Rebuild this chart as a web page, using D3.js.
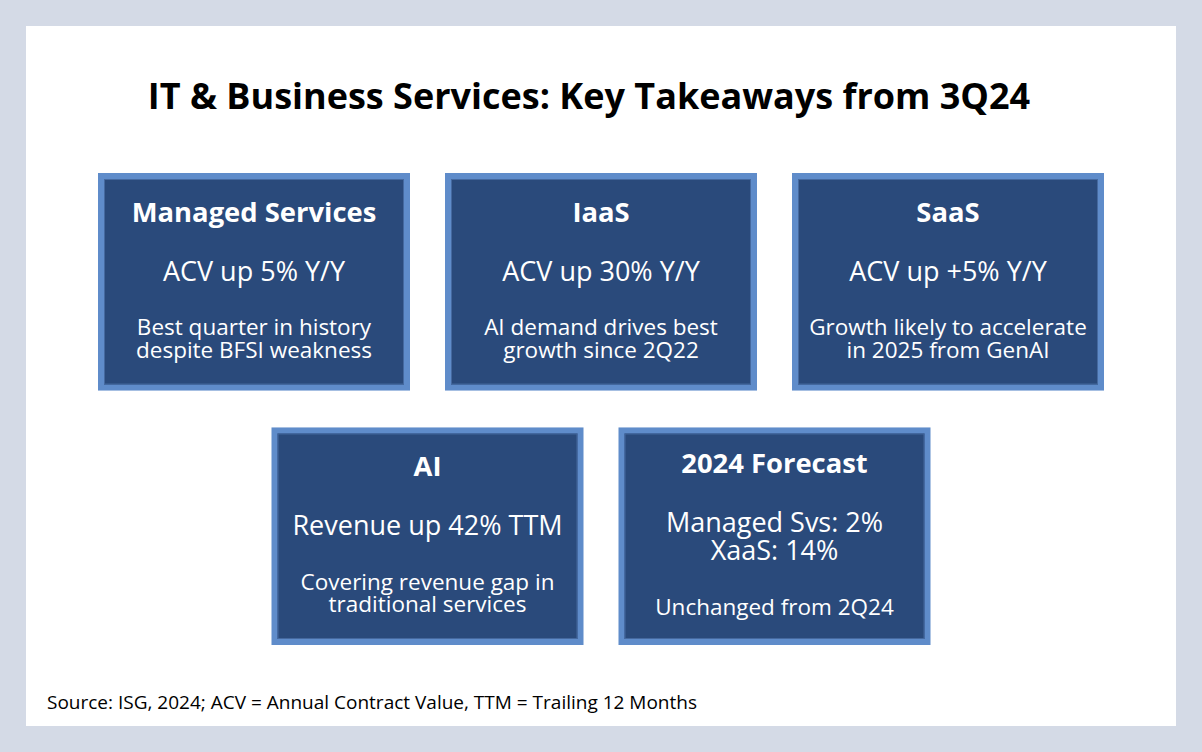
<!DOCTYPE html>
<html>
<head>
<meta charset="utf-8">
<script src="https://cdn.jsdelivr.net/npm/d3@7"></script>
<style>
  html, body { margin: 0; padding: 0; background: #d4dae6; }
  svg { display: block; font-family: "Open Sans", sans-serif; }
</style>
</head>
<body>
<div id="chart"></div>
<script>
// card contents
const cardTitles = ["Managed Services", "IaaS", "SaaS", "AI", "2024 Forecast"];
const cardHeadlines = [
    ["ACV up 5% Y/Y"],
    ["ACV up 30% Y/Y"],
    ["ACV up +5% Y/Y"],
    ["Revenue up 42% TTM"],
    ["Managed Svs: 2%", "XaaS: 14%"]
];
const cardNotes = [
    ["Best quarter in history", "despite BFSI weakness"],
    ["AI demand drives best", "growth since 2Q22"],
    ["Growth likely to accelerate", "in 2025 from GenAI"],
    ["Covering revenue gap in", "traditional services"],
    ["Unchanged from 2Q24"]
];
const cardRows = [0, 0, 0, 1, 1];
const chartTitle = "IT & Business Services: Key Takeaways from 3Q24";
const sourceNote = "Source: ISG, 2024; ACV = Annual Contract Value, TTM = Trailing 12 Months";

const width = 1202, height = 752;
const panel = {x: 26, y: 26, w: 1150, h: 700};
const centerX = 601;
const boxW = 312, gapX = 35;
const border = 6;

const COLORS = {
    fill: "#2a4a7b",
    border: "#5f8cca",
    edge: "#45699f"
};

const svg = d3.select("#chart").append("svg")
    .attr("width", width)
    .attr("height", height)
    .attr("viewBox", [0, 0, width, height]);

svg.append("rect")
    .attr("x", panel.x).attr("y", panel.y)
    .attr("width", panel.w).attr("height", panel.h)
    .attr("fill", "#fff");

svg.append("text")
    .attr("x", 589)
    .attr("y", 109)
    .attr("text-anchor", "middle")
    .attr("font-size", 36)
    .attr("font-weight", 700)
    .attr("fill", "#000")
    .text(chartTitle);

// rows are laid out with a band scale, each row's cards centered on the slide
const yRow = d3.scaleBand().domain([0, 1]).range([173, 645]).paddingInner(0.145);

const cards = cardTitles.map((t, i) => ({
    title: t,
    headline: cardHeadlines[i],
    notes: cardNotes[i],
    row: cardRows[i]
}));

d3.group(cards, d => d.row).forEach((list, row) => {
    const total = list.length * boxW + (list.length - 1) * gapX;
    const x = d3.scaleBand()
        .domain(d3.range(list.length))
        .range([centerX - total / 2, centerX + total / 2])
        .paddingInner(gapX / (boxW + gapX));
    list.forEach((d, i) => { d.x = x(i); d.y = yRow(row); d.w = x.bandwidth(); d.h = yRow.bandwidth(); });
});

const card = svg.append("g").selectAll("g")
    .data(cards)
    .join("g")
    .attr("transform", d => `translate(${d.x},${d.y})`);

card.append("rect")
    .attr("x", border / 2).attr("y", border / 2)
    .attr("width", d => d.w - border).attr("height", d => d.h - border)
    .attr("fill", COLORS.fill)
    .attr("stroke", COLORS.border)
    .attr("stroke-width", border);

card.append("rect")
    .attr("x", border + 0.5).attr("y", border + 0.5)
    .attr("width", d => d.w - 2 * border - 1).attr("height", d => d.h - 2 * border - 1)
    .attr("fill", "none")
    .attr("stroke", COLORS.edge)
    .attr("stroke-width", 1);

card.append("text")
    .attr("x", d => d.w / 2)
    .attr("y", d => 49 - (d.headline.length - 1) * 3.3)
    .attr("text-anchor", "middle")
    .attr("font-size", 27.4)
    .attr("font-weight", 700)
    .attr("fill", "#fff")
    .text(d => d.title);

card.each(function(d) {
    const g = d3.select(this);
    const mainY = 107.7 - (d.headline.length - 1) * 3;
    d.headline.forEach((line, i) => {
        g.append("text")
            .attr("x", d.w / 2)
            .attr("y", mainY + i * 28.3)
            .attr("text-anchor", "middle")
            .attr("font-size", 27)
            .attr("fill", "#fff")
            .text(line);
    });
    const noteY = mainY + (d.headline.length - 1) * 28.3 + 54.5;
    d.notes.forEach((line, i) => {
        g.append("text")
            .attr("x", d.w / 2)
            .attr("y", noteY + i * 22.4)
            .attr("text-anchor", "middle")
            .attr("font-size", 22.5)
            .attr("fill", "#fff")
            .text(line);
    });
});

svg.append("text")
    .attr("x", 47)
    .attr("y", 709)
    .attr("font-size", 19)
    .attr("fill", "#000")
    .text(sourceNote);
</script>
</body>
</html>
